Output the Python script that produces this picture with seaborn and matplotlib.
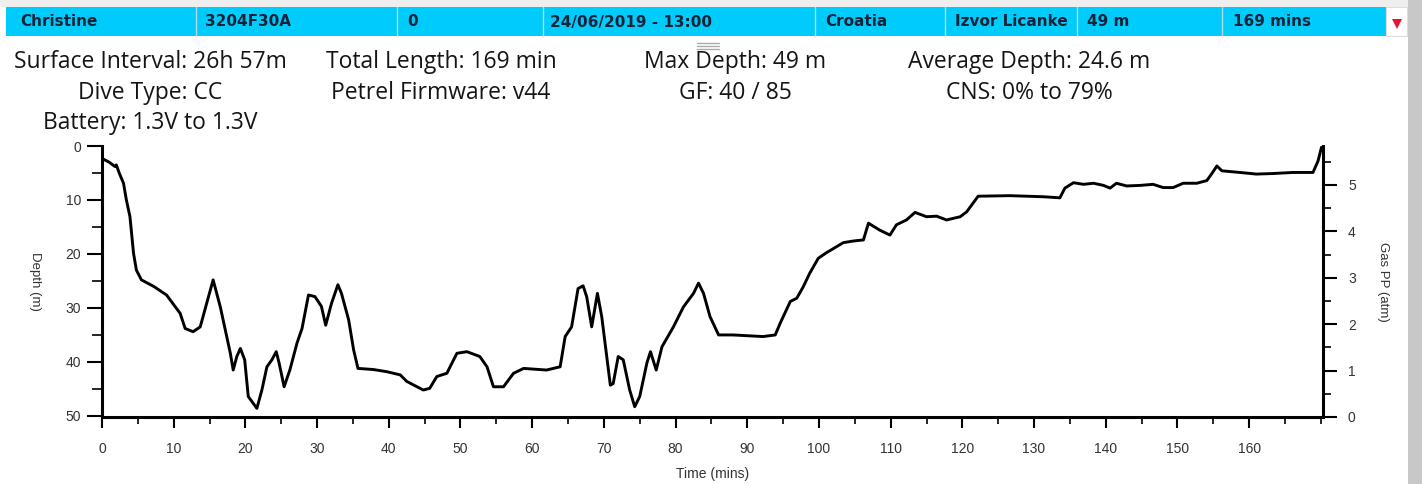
import numpy as np
import pandas as pd
import matplotlib
matplotlib.use("Agg")
import matplotlib.pyplot as plt
import seaborn as sns
from matplotlib.patches import Rectangle, Polygon
from matplotlib.ticker import MultipleLocator

# ---------------- data ----------------
time_min = [0.0, 1.0, 1.8, 2.0, 2.4, 3.0, 3.4, 3.9, 4.4, 4.8, 5.5, 7.2, 9.0, 10.9, 11.6, 12.7,
            13.7, 15.5, 16.5, 17.9, 18.3, 18.8, 19.3, 19.9, 20.4, 21.6, 22.3, 23.0, 23.7, 24.3,
            24.7, 25.4, 26.2, 27.2, 27.9, 28.8, 29.7, 30.6, 31.2, 32.0, 32.9, 33.4, 34.4, 35.1,
            35.7, 37.8, 39.7, 41.6, 42.5, 44.8, 45.7, 46.7, 48.1, 49.5, 50.9, 52.7, 53.7, 54.6,
            56.0, 57.4, 58.8, 62.0, 63.9, 64.6, 65.5, 66.4, 67.1, 67.6, 68.3, 69.1, 69.7, 70.9,
            71.3, 72.0, 72.7, 73.6, 74.3, 75.0, 76.0, 76.5, 77.3, 78.1, 79.7, 81.1, 82.5, 83.2,
            83.9, 84.8, 86.0, 88.0, 92.2, 93.9, 94.6, 96.0, 96.9, 97.8, 98.7, 99.9, 101.0, 102.0,
            103.4, 104.8, 106.2, 106.9, 108.5, 109.9, 110.8, 112.2, 113.4, 115.0, 116.4,
            117.8, 119.7, 120.6, 122.2, 126.6, 131.3, 133.6, 134.3, 135.5, 136.9, 138.3, 139.7,
            140.6, 141.5, 142.9, 144.8, 146.6, 148.0, 149.4, 150.8, 152.7, 154.1, 154.8, 155.5,
            156.2, 158.7, 161.0, 163.3, 166.1, 168.9, 169.6, 170.1]
depth_m = [2.3, 3.0, 3.8, 3.5, 5.0, 6.9, 10.0, 13.1, 19.9, 23.0, 24.8, 26.0, 27.6, 31.0, 33.8, 34.4,
           33.5, 24.8, 29.8, 38.4, 41.5, 39.0, 37.5, 39.6, 46.4, 48.6, 45.2, 40.9, 39.6, 38.1,
           40.2, 44.6, 41.5, 36.5, 33.8, 27.6, 27.9, 29.7, 33.2, 29.2, 25.7, 27.3, 32.2, 37.8,
           41.2, 41.4, 41.8, 42.4, 43.6, 45.2, 44.9, 42.7, 42.1, 38.4, 38.1, 39.0, 40.9, 44.6,
           44.6, 42.1, 41.2, 41.5, 40.9, 35.3, 33.5, 26.4, 25.9, 27.9, 33.5, 27.3, 31.6, 44.3,
           44.0, 39.0, 39.6, 45.2, 48.3, 46.4, 40.2, 38.1, 41.5, 37.2, 33.5, 29.8, 27.3, 25.4,
           27.3, 31.6, 35.0, 35.0, 35.3, 35.0, 32.8, 28.8, 28.2, 26.1, 23.6, 20.8, 19.8, 19.0,
           17.9, 17.6, 17.4, 14.3, 15.6, 16.5, 14.6, 13.7, 12.3, 13.1, 13.0,
           13.7, 13.1, 12.2, 9.3, 9.2, 9.4, 9.6, 7.8, 6.8, 7.1, 6.9, 7.3,
           7.8, 6.9, 7.4, 7.3, 7.1, 7.7, 7.7, 6.9, 6.9, 6.4, 5.1, 3.7,
           4.6, 4.9, 5.2, 5.1, 4.9, 4.9, 2.8, 0.2]

header_cells = ["Christine", "3204F30A", "0", "24/06/2019 - 13:00", "Croatia",
                "Izvor Licanke", "49 m", "169 mins"]
info_rows = [
    ["Surface Interval: 26h 57m", "Total Length: 169 min", "Max Depth: 49 m", "Average Depth: 24.6 m"],
    ["Dive Type: CC", "Petrel Firmware: v44", "GF: 40 / 85", "CNS: 0% to 79%"],
    ["Battery: 1.3V to 1.3V"],
]
depth_ticks = [0, 10, 20, 30, 40, 50]
gas_ticks = [0, 1, 2, 3, 4, 5]
time_ticks = list(range(0, 170, 10))

df = pd.DataFrame({"Time": time_min, "Depth": depth_m})

# ---------------- figure ----------------
sns.set_theme(style="white")
plt.rcParams["font.family"] = ["Liberation Sans", "DejaVu Sans"]
W, H = 1422, 484
fig = plt.figure(figsize=(W / 100, H / 100), dpi=100)
fig.patch.set_facecolor("white")

def fx(px):
    return px / W

def fy(py):
    return 1 - py / H

# background frame: light gray top strip and right shadow
fig.add_artist(Rectangle((0, fy(7)), 1, 7 / H, transform=fig.transFigure,
                         facecolor="#eeeeee", edgecolor="none", zorder=0))
fig.add_artist(Rectangle((fx(1408), 0), 14 / W, 1, transform=fig.transFigure,
                         facecolor="#c8c8c8", edgecolor="none", zorder=0))

# header bar
bar_left, bar_right, bar_top, bar_bot = 6, 1386, 7, 36
fig.add_artist(Rectangle((fx(bar_left), fy(bar_bot)), (bar_right - bar_left) / W,
                         (bar_bot - bar_top) / H, transform=fig.transFigure,
                         facecolor="#00ccfb", edgecolor="none", zorder=1))
seps = [196, 397, 543, 815, 945, 1077, 1222]
text_x = [20, 205, 407, 550, 825, 955, 1087, 1233]
for s in seps:
    fig.add_artist(plt.Line2D([fx(s), fx(s)], [fy(bar_bot), fy(bar_top)],
                              transform=fig.transFigure, color="#b5dbe6", lw=1, zorder=2))
for txt, x in zip(header_cells, text_x):
    fig.text(fx(x), fy(22), txt, ha="left", va="center", fontsize=11, fontweight="bold",
             color="#14233a", family=["Liberation Sans Narrow", "DejaVu Sans"], zorder=3)
# dropdown cell with red triangle
fig.add_artist(Rectangle((fx(1386), fy(bar_bot)), 21 / W, (bar_bot - bar_top) / H,
                         transform=fig.transFigure, facecolor="white",
                         edgecolor="#dddddd", lw=0.8, zorder=1))
fig.add_artist(Polygon([[fx(1392), fy(19)], [fx(1402), fy(19)], [fx(1397), fy(29)]],
                       closed=True, transform=fig.transFigure, facecolor="#ee1133",
                       edgecolor="none", zorder=3))
# drag handle
for yy in (43, 46, 49):
    fig.add_artist(plt.Line2D([fx(697), fx(719)], [fy(yy), fy(yy)], transform=fig.transFigure,
                              color="#aaaaaa", lw=1, zorder=2))

# info text
col_x = [150, 441, 735, 1029]
row_y = [62, 93, 123]
for r, row in enumerate(info_rows):
    for c, txt in enumerate(row):
        fig.text(fx(col_x[c]), fy(row_y[r]), txt, ha="center", va="center", fontsize=16.5,
                 color="#151515", family=["Open Sans", "DejaVu Sans"])

# ---------------- axes ----------------
ax_l, ax_r, ax_t, ax_b = 102, 1323, 146, 417
ax = fig.add_axes([fx(ax_l), fy(ax_b), (ax_r - ax_l) / W, (ax_b - ax_t) / H])
ax.set_facecolor("none")
sns.lineplot(data=df, x="Time", y="Depth", ax=ax, color="black", linewidth=2.1,
             estimator=None, sort=False)
ax.set_xlim(0, 170.3)
ax.set_ylim(50.2, 0)
ax.set_xticks(time_ticks)
ax.set_xticklabels([str(t) for t in time_ticks])
ax.xaxis.set_minor_locator(MultipleLocator(5))
ax.set_yticks(depth_ticks)
ax.set_yticklabels([str(t) for t in depth_ticks])
ax.yaxis.set_minor_locator(MultipleLocator(5))
ax.set_xlabel("Time (mins)", fontsize=10, color="#333333")
ax.set_ylabel("Depth (m)", fontsize=9.5, color="#333333", rotation=-90)
ax.yaxis.set_label_coords(-0.06, 0.5)
ax.xaxis.set_label_coords(0.5, -0.185)
for side in ("top", "right"):
    ax.spines[side].set_visible(False)
for side in ("left", "bottom"):
    ax.spines[side].set_color("black")
    ax.spines[side].set_linewidth(2.2)
ax.tick_params(axis="x", which="major", direction="out", length=8, width=1.5,
               colors="black", labelcolor="#333333", labelsize=10, pad=10, bottom=True)
ax.tick_params(axis="x", which="minor", direction="out", length=5, width=1.2,
               colors="black", bottom=True)
ax.tick_params(axis="y", which="major", direction="out", length=11, width=1.5,
               colors="black", labelcolor="#333333", labelsize=10, pad=4, left=True)
ax.tick_params(axis="y", which="minor", direction="out", length=7, width=1.2,
               colors="black", left=True)
ax.grid(False)

ax2 = ax.twinx()
ax2.set_ylim(0, 5.84)
ax2.set_yticks(gas_ticks)
ax2.set_yticklabels([str(t) for t in gas_ticks])
ax2.yaxis.set_minor_locator(MultipleLocator(0.5))
for side in ("top", "left", "bottom"):
    ax2.spines[side].set_visible(False)
ax2.spines["right"].set_color("black")
ax2.spines["right"].set_linewidth(2.2)
ax2.tick_params(axis="y", which="major", direction="out", length=10, width=1.5,
                colors="black", labelcolor="#333333", labelsize=10, pad=8, right=True)
ax2.tick_params(axis="y", which="minor", direction="out", length=6, width=1.2,
                colors="black", right=True)
ax2.set_ylabel("Gas PP (atm)", fontsize=9.5, color="#333333", rotation=-90)
ax2.yaxis.set_label_coords(1.054, 0.5)
ax2.grid(False)

fig.savefig("out.png", dpi=100)
